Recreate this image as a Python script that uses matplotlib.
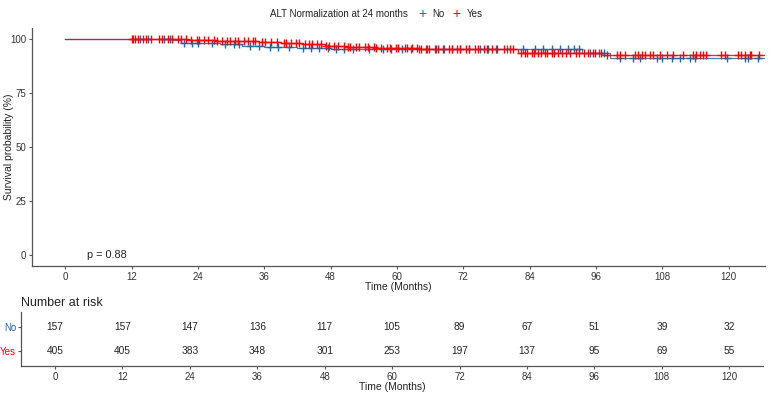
import matplotlib
matplotlib.use('Agg')
import matplotlib.pyplot as plt
import numpy as np

plt.rcParams.update({'font.family': ['Liberation Sans', 'DejaVu Sans']})
plt.rcParams.update({'font.size': 7})

#%% data

groups = ['No', 'Yes']
colors = {'No': '#1f6aa5', 'Yes': '#ff0000'}

# step curves (time in months, survival in %)
no_t = [0, 19.5, 21.0, 28.0, 32.0, 36.0, 42.0, 48.0, 93.5, 98.5]
no_s = [100, 99.4, 98.1, 97.4, 96.8, 96.1, 95.7, 95.1, 93.6, 91.3]
yes_t = [0, 18.0, 22.0, 27.0, 31.0, 35.0, 39.0, 43.0, 47.0, 51.0, 56.0, 64.0, 72.0, 82.0, 97.0]
yes_s = [100, 99.7, 99.4, 99.1, 98.8, 98.4, 97.9, 97.5, 96.9, 96.3, 95.9, 95.5, 95.1, 93.3, 92.6]

# censoring times
no_cens = [12.2, 13.5, 15.0, 17.8, 19.0, 21.5, 23.0, 24.0, 26.5, 29.0, 30.5, 31.5,
           33.5, 35.0, 37.0, 38.5, 40.5, 43.0, 44.5, 46.0, 47.5, 49.0, 50.5, 52.0,
           55.0, 57.5, 59.0, 61.0, 62.5, 64.0, 65.5, 67.0, 68.5, 70.0, 71.5, 73.0,
           75.0, 76.5, 78.0, 80.0, 82.8, 85.0, 86.5, 88.0, 89.5, 91.0, 92.0, 93.0,
           95.0, 96.5, 97.5, 100.4, 102.7, 104.0, 107.0, 108.0, 109.8, 111.2, 113.0,
           114.0, 119.7, 123.0, 123.5, 125.3]
yes_cens = [12.0, 12.7, 13.2, 14.1, 14.6, 15.5, 17.0, 17.5, 18.6, 19.4, 20.5, 21.0,
            21.9, 22.7, 23.8, 24.3, 25.2, 25.9, 26.9, 27.4, 28.3, 29.2, 29.8, 30.7,
            31.3, 32.4, 33.0, 33.9, 34.4, 35.6, 36.1, 37.2, 38.4, 39.5, 40.0, 40.8,
            41.7, 42.3, 43.4, 44.1, 44.7, 45.6, 46.2, 47.1, 47.8, 48.7, 49.3, 50.4,
            51.1, 51.6, 52.6, 53.2, 54.2, 54.7, 55.8, 56.3, 57.1, 58.2, 58.7, 59.8,
            60.3, 61.4, 61.9, 62.8, 63.7, 64.3, 65.3, 65.8, 66.9, 67.5, 68.3, 69.4,
            69.9, 70.9, 71.5, 72.6, 73.1, 74.2, 74.7, 75.8, 76.3, 77.3, 78.1, 79.4,
            80.4, 81.0, 82.5, 83.2, 83.6, 84.4, 84.8, 85.6, 86.0, 86.8, 87.2, 88.0,
            88.4, 89.2, 89.8, 90.6, 91.4, 92.4, 92.9, 93.9, 94.5, 95.4, 95.9, 96.9,
            98.0, 99.8, 100.4, 101.3, 103.1, 103.7, 104.3, 104.9, 105.8, 106.4,
            107.6, 108.8, 110.0, 111.8, 113.6, 114.2, 114.8, 115.4, 116.0, 118.7,
            119.3, 121.7, 122.3, 122.9, 123.8, 124.1, 125.6]

risk_times = [0, 12, 24, 36, 48, 60, 72, 84, 96, 108, 120]
risk_no = [157, 157, 147, 136, 117, 105, 89, 67, 51, 39, 32]
risk_yes = [405, 405, 383, 348, 301, 253, 197, 137, 95, 69, 55]
p_text = 'p = 0.88'

curves = {'No': (no_t, no_s, no_cens), 'Yes': (yes_t, yes_s, yes_cens)}
risk = {'No': risk_no, 'Yes': risk_yes}

#%% figure

W, H = 771, 394
fig = plt.figure(figsize=(W/100, H/100), dpi=100)
axc = '#555555'
txt = '#222222'

def px_axes(x0, y0, x1, y1):
    return fig.add_axes([x0/W, 1 - y1/H, (x1 - x0)/W, (y1 - y0)/H])

def style(ax):
    for s in ['top', 'right']:
        ax.spines[s].set_visible(False)
    for s in ['left', 'bottom']:
        ax.spines[s].set_color(axc)
        ax.spines[s].set_linewidth(0.9)
    ax.tick_params(colors=axc, length=2.5, width=0.8, pad=1.5, labelsize=7,
                   labelcolor='#333333')

ax = px_axes(32, 28, 765, 266)
style(ax)
t_end = 126.5
for g in groups:
    t, s, c = curves[g]
    tt = list(t) + [t_end]
    ss = list(s) + [s[-1]]
    ax.step(tt, ss, where='post', color=colors[g], lw=0.9, alpha=0.85)
    idx = np.searchsorted(t, c, side='right') - 1
    ax.plot(c, np.array(s)[idx], ls='none', marker='+', ms=5.5, mew=1.0,
            color=colors[g])
ax.set_xlim(-6, 126.6)
ax.set_ylim(-5, 105)
ax.set_xticks(risk_times)
ax.set_yticks([0, 25, 50, 75, 100])
ax.set_xlabel('Time (Months)', fontsize=7.5, labelpad=0, color=txt)
ax.set_ylabel('Survival probability (%)', fontsize=7.5, color=txt, va='center')
ax.yaxis.set_label_coords((9 - 32)/733, 0.5)
ax.text(4, 0, p_text, fontsize=7.8, va='center', ha='left', color=txt)

# legend on top
fig.text(408/W, 1 - 14/H, 'ALT Normalization at 24 months', ha='right', va='center',
         fontsize=7, color=txt)
for g, x0, x1 in zip(groups, [422, 456], [432, 467]):
    fig.text(x0/W, 1 - 14/H, '+', ha='center', va='center', fontsize=10,
             color=colors[g])
    fig.text(x1/W, 1 - 14/H, g, ha='left', va='center', fontsize=7, color=txt)

#%% risk table

ar = px_axes(21, 312, 763, 366)
style(ar)
ar.tick_params(axis='y', pad=1)
ar.set_xlim(-6.05, 126)
ar.set_ylim(0.4, 2.6)
ypos = {'No': 2, 'Yes': 1}
for g in groups:
    for t, n in zip(risk_times, risk[g]):
        ar.text(t, ypos[g], str(n), ha='center', va='center', fontsize=7.3,
                color=txt)
ar.set_yticks([ypos[g] for g in groups])
ar.set_yticklabels(groups, fontsize=7)
for lab, g in zip(ar.get_yticklabels(), groups):
    lab.set_color(colors[g])
ar.set_xticks(risk_times)
ar.set_xlabel('Time (Months)', fontsize=7.5, labelpad=0, color=txt)
ar.set_title('Number at risk', loc='left', fontsize=9, pad=4, color=txt)

fig.savefig('out.png', dpi=100)
